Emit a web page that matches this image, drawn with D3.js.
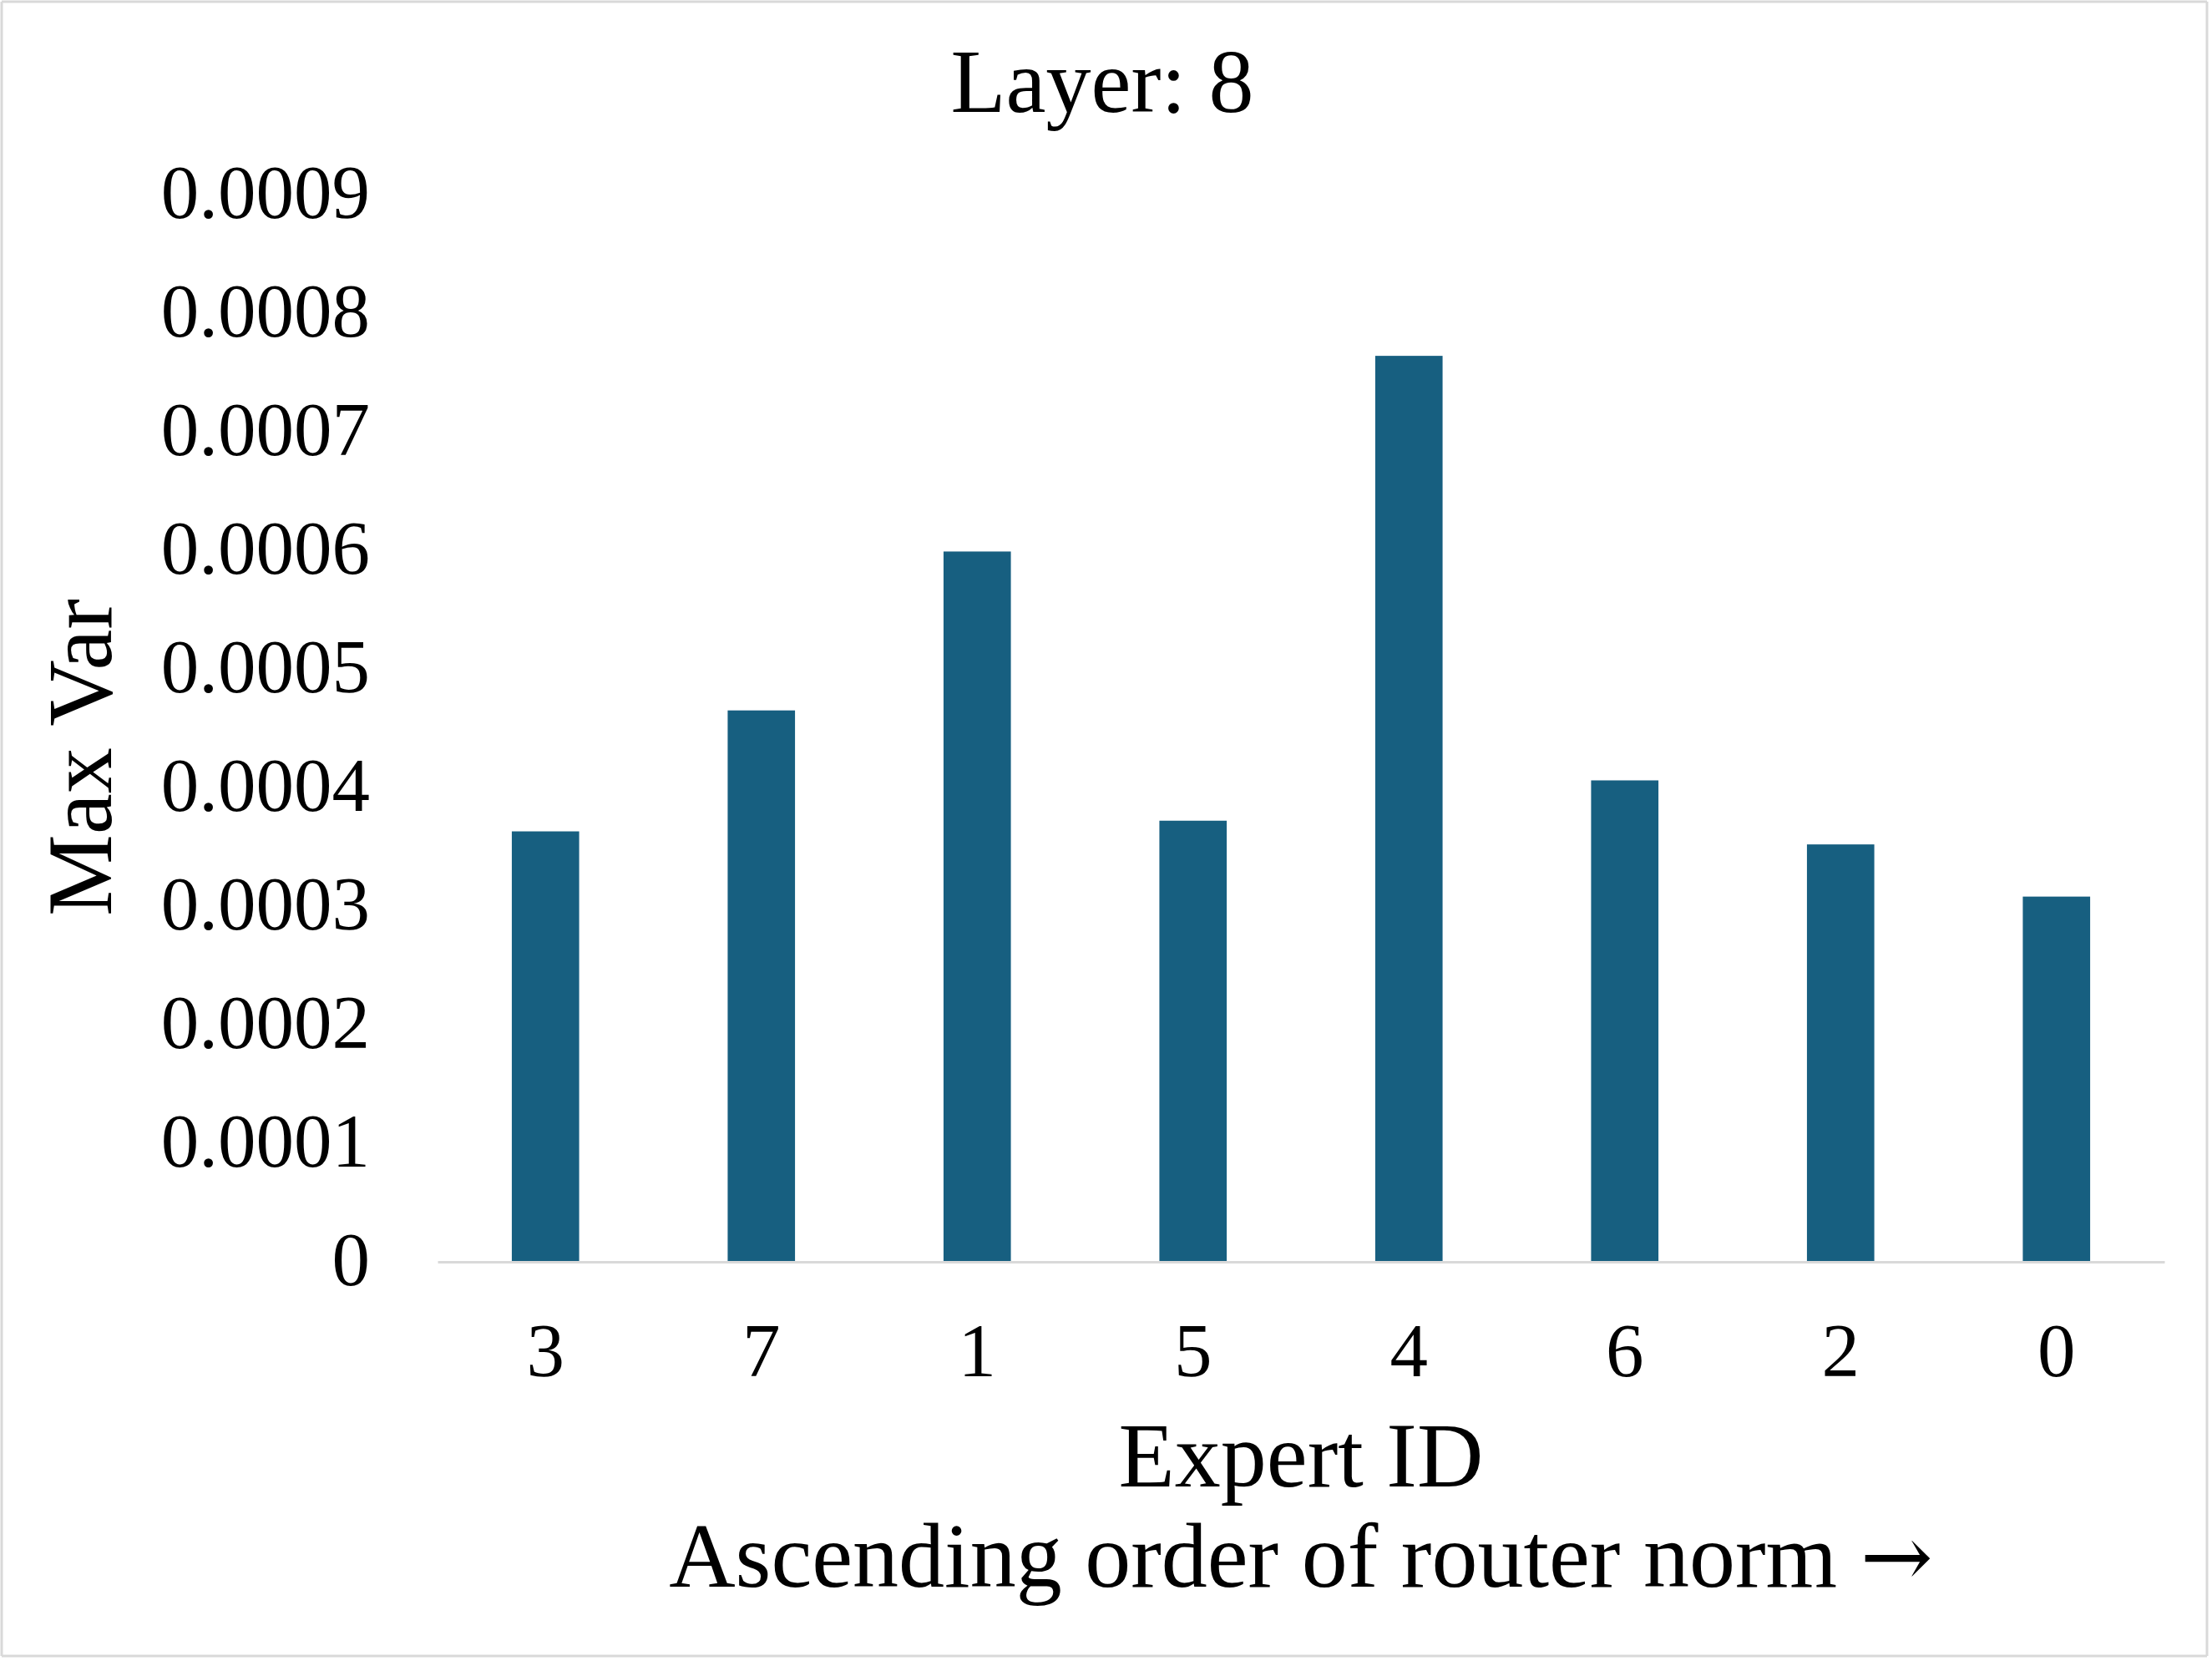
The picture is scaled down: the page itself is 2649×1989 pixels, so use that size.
<!DOCTYPE html>
<html>
<head>
<meta charset="utf-8">
<script src="https://cdn.jsdelivr.net/npm/d3@7"></script>
<style>
  body { margin: 0; background: #fff; }
  svg text { font-family: "Liberation Serif", "Times New Roman", serif; fill: #000; }
</style>
</head>
<body>
<svg width="2649" height="1989"></svg>
<script>
const expertIds = ['3', '7', '1', '5', '4', '6', '2', '0'];
const maxVar = [0.000363, 0.000465, 0.000599, 0.000372, 0.000764, 0.000406, 0.000352, 0.000308];
const yTicks = [0, 0.0001, 0.0002, 0.0003, 0.0004, 0.0005, 0.0006, 0.0007, 0.0008, 0.0009];

const svg = d3.select('svg');
const width = +svg.attr('width');
const height = +svg.attr('height');

const margin = { top: 233, right: 57, bottom: 478, left: 524 };
const innerWidth = width - margin.left - margin.right;
const innerHeight = height - margin.top - margin.bottom;

// chart frame, drawn as four lines
const frame = [
    [2, 2, width - 6, 2],
    [width - 6, 2, width - 6, height - 6],
    [width - 6, height - 6, 2, height - 6],
    [2, height - 6, 2, 2]
];
svg.selectAll('line.frame').data(frame)
    .enter().append('line')
    .attr('class', 'frame')
    .attr('x1', d => d[0]).attr('y1', d => d[1])
    .attr('x2', d => d[2]).attr('y2', d => d[3])
    .attr('stroke', '#d9d9d9')
    .attr('stroke-width', 3);

const data = expertIds.map((id, i) => ({ id, value: maxVar[i] }));

const xScale = d3.scaleBand()
    .domain(expertIds)
    .range([0, innerWidth])
    .paddingInner(0.688)
    .paddingOuter(0.344);

const yScale = d3.scaleLinear()
    .domain([0, 0.0009])
    .range([innerHeight, 0]);

const g = svg.append('g')
    .attr('transform', `translate(${margin.left},${margin.top})`);

const yAxis = d3.axisLeft(yScale)
    .tickValues(yTicks)
    .tickFormat(d => d === 0 ? '0' : d3.format('.4f')(d))
    .tickSize(0)
    .tickPadding(81);

const yAxisG = g.append('g').call(yAxis);
yAxisG.select('.domain').remove();
yAxisG.selectAll('text')
    .attr('font-size', 91)
    .attr('dy', '0.3em');

g.selectAll('rect.bar').data(data)
    .enter().append('rect')
    .attr('class', 'bar')
    .attr('x', d => xScale(d.id))
    .attr('y', d => yScale(d.value))
    .attr('width', xScale.bandwidth())
    .attr('height', d => innerHeight - yScale(d.value))
    .attr('fill', '#175f80');

const xAxis = d3.axisBottom(xScale)
    .tickSize(0)
    .tickPadding(137);

const xAxisG = g.append('g').call(xAxis)
    .attr('transform', `translate(0,${innerHeight})`);
xAxisG.select('.domain')
    .attr('stroke', '#d9d9d9')
    .attr('stroke-width', 3);
xAxisG.selectAll('text')
    .attr('font-size', 91)
    .attr('dy', '0em');

g.append('text')
    .attr('x', innerWidth / 2)
    .attr('y', 1780 - margin.top)
    .attr('text-anchor', 'middle')
    .attr('font-size', 110)
    .text('Expert ID');

const sub = g.append('text')
    .attr('x', innerWidth / 2)
    .attr('y', 1900 - margin.top)
    .attr('text-anchor', 'middle')
    .attr('font-size', 110);
sub.append('tspan').text('Ascending order of router norm ');
sub.append('tspan')
    .style('font-family', '"DejaVu Serif", serif')
    .attr('font-size', 104)
    .text('\u2192');

svg.append('text')
    .attr('transform', `translate(133,907) rotate(-90)`)
    .attr('text-anchor', 'middle')
    .attr('font-size', 110)
    .text('Max Var');

svg.append('text')
    .attr('x', 1320)
    .attr('y', 134)
    .attr('text-anchor', 'middle')
    .attr('font-size', 108)
    .text('Layer: 8');
</script>
</body>
</html>
